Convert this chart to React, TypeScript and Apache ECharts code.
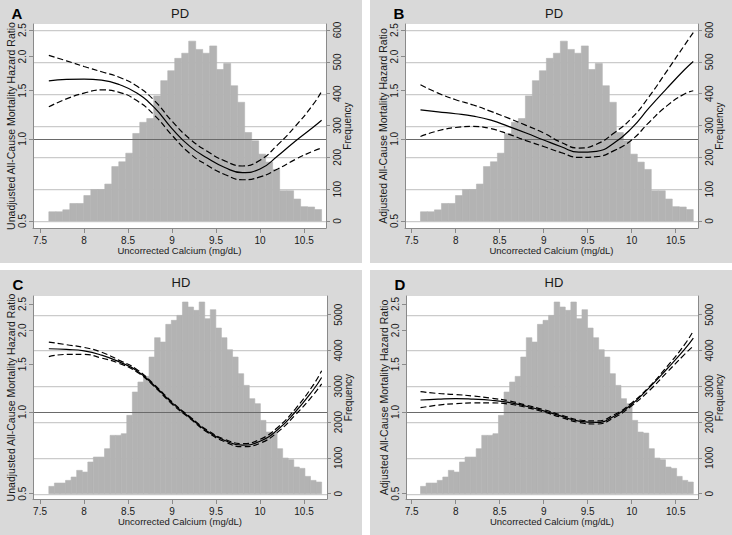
import React, { useEffect, useRef } from "react";
import * as echarts from "echarts";

// ---------------- data ----------------
const calciumX = [7.6, 7.8, 8.0, 8.2, 8.4, 8.6, 8.8, 9.0, 9.2, 9.4, 9.6, 9.8, 10.0, 10.2, 10.4, 10.6, 10.7];

// Panel A: PD, unadjusted hazard ratio
const pdUnadjEst = [1.63, 1.65, 1.655, 1.64, 1.58, 1.47, 1.3, 1.09, 0.94, 0.85, 0.785, 0.752, 0.775, 0.865, 0.98, 1.1, 1.17];
const pdUnadjHi = [2.02, 1.93, 1.84, 1.76, 1.68, 1.56, 1.38, 1.16, 1.0, 0.9, 0.83, 0.795, 0.835, 0.95, 1.11, 1.33, 1.49];
const pdUnadjLo = [1.31, 1.4, 1.47, 1.51, 1.48, 1.38, 1.22, 1.03, 0.885, 0.8, 0.74, 0.708, 0.725, 0.775, 0.84, 0.9, 0.925];

// Panel B: PD, adjusted hazard ratio
const pdAdjEst = [1.277, 1.255, 1.235, 1.21, 1.17, 1.11, 1.05, 0.99, 0.935, 0.893, 0.9, 0.965, 1.094, 1.3, 1.53, 1.79, 1.92];
const pdAdjHi = [1.577, 1.47, 1.39, 1.33, 1.26, 1.19, 1.12, 1.05, 0.97, 0.925, 0.955, 1.05, 1.19, 1.43, 1.77, 2.2, 2.45];
const pdAdjLo = [1.02, 1.07, 1.1, 1.11, 1.09, 1.04, 0.985, 0.937, 0.89, 0.855, 0.86, 0.905, 0.99, 1.15, 1.32, 1.46, 1.5];

// Panel C: HD, unadjusted hazard ratio
const hdUnadjEst = [1.71, 1.7, 1.68, 1.62, 1.53, 1.42, 1.25, 1.08, 0.955, 0.85, 0.785, 0.755, 0.78, 0.86, 1.0, 1.2, 1.34];
const hdUnadjHi = [1.81, 1.77, 1.73, 1.66, 1.55, 1.435, 1.26, 1.09, 0.962, 0.857, 0.793, 0.765, 0.793, 0.877, 1.025, 1.25, 1.42];
const hdUnadjLo = [1.6, 1.63, 1.63, 1.58, 1.51, 1.405, 1.24, 1.07, 0.948, 0.843, 0.777, 0.745, 0.767, 0.843, 0.975, 1.15, 1.27];

// Panel D: HD, adjusted hazard ratio
const hdAdjEst = [1.107, 1.115, 1.12, 1.115, 1.105, 1.085, 1.05, 1.01, 0.965, 0.925, 0.915, 0.965, 1.067, 1.23, 1.44, 1.7, 1.87];
const hdAdjHi = [1.188, 1.17, 1.16, 1.145, 1.125, 1.1, 1.06, 1.02, 0.975, 0.935, 0.927, 0.977, 1.08, 1.24, 1.47, 1.77, 1.99];
const hdAdjLo = [1.037, 1.06, 1.073, 1.08, 1.08, 1.07, 1.04, 1.0, 0.955, 0.915, 0.903, 0.953, 1.055, 1.2, 1.4, 1.63, 1.75];

// Histograms of uncorrected calcium (bins spanning 7.6 - 10.7)
const histStart = 7.6;
const histEnd = 10.7;
const pdCounts = [29, 29, 35, 55, 55, 80, 99, 99, 116, 171, 186, 213, 275, 310, 322, 393, 441, 472, 511, 527, 565, 539, 527, 550, 476, 495, 425, 373, 278, 252, 210, 185, 162, 95, 95, 69, 45, 44, 36];
const hdCounts = [205, 298, 298, 372, 466, 652, 605, 885, 1024, 1024, 1257, 1630, 1630, 1676, 2188, 2840, 3119, 3277, 3817, 4358, 4236, 4730, 4842, 4981, 5354, 5214, 5121, 5354, 4888, 5140, 4627, 4358, 4022, 3817, 3352, 3026, 2654, 2514, 2048, 1722, 1694, 1257, 996, 950, 745, 708, 484, 372, 326];

// Tick labels
const xTicks = [7.5, 8, 8.5, 9, 9.5, 10, 10.5];
const hrTicks = [0.5, 1.0, 1.5, 2.0, 2.5];
const pdFreqTicks = [0, 100, 200, 300, 400, 500, 600];
const hdFreqTicks = [0, 1000, 2000, 3000, 4000, 5000];

// ---------------- layout ----------------
const FONT = "'Liberation Sans', Arial, Helvetica, sans-serif";
const PANEL_BG = "#d9d9d9";
const BAR_COLOR = "#b3b3b3";
const GRID_COLOR = "#cbcbcb";
const AXIS_COLOR = "#8a8a8a";
const TEXT_COLOR = "#1a1a1a";

const panels = [
  {
    letter: "A", title: "PD", yName: "Unadjusted All-Cause Mortality Hazard Ratio",
    bg: [0, 0, 362, 263], grid: { left: 33, top: 24, width: 293, height: 204 },
    letterPos: [17, 13], titlePos: [180, 13],
    logRange: [-1.0852, 1.3966], freqRange: [-22, 618.9], xRange: [7.42, 10.75],
    counts: pdCounts, freqTicks: pdFreqTicks, est: pdUnadjEst, hi: pdUnadjHi, lo: pdUnadjLo,
  },
  {
    letter: "B", title: "PD", yName: "Adjusted All-Cause Mortality Hazard Ratio",
    bg: [370, 0, 362, 263], grid: { left: 405, top: 24, width: 293, height: 204 },
    letterPos: [399, 13], titlePos: [554, 13],
    logRange: [-1.0852, 1.3966], freqRange: [-22, 618.9], xRange: [7.424, 10.754],
    counts: pdCounts, freqTicks: pdFreqTicks, est: pdAdjEst, hi: pdAdjHi, lo: pdAdjLo,
  },
  {
    letter: "C", title: "HD", yName: "Unadjusted All-Cause Mortality Hazard Ratio",
    bg: [0, 270, 362, 265], grid: { left: 33, top: 296, width: 294, height: 203 },
    letterPos: [18, 284], titlePos: [181, 282],
    logRange: [-1.0649, 1.4198], freqRange: [-148, 5522], xRange: [7.42, 10.761],
    counts: hdCounts, freqTicks: hdFreqTicks, est: hdUnadjEst, hi: hdUnadjHi, lo: hdUnadjLo,
  },
  {
    letter: "D", title: "HD", yName: "Adjusted All-Cause Mortality Hazard Ratio",
    bg: [370, 270, 362, 265], grid: { left: 406, top: 296, width: 292, height: 203 },
    letterPos: [400, 284], titlePos: [554, 282],
    logRange: [-1.0649, 1.4198], freqRange: [-148, 5522], xRange: [7.435, 10.753],
    counts: hdCounts, freqTicks: hdFreqTicks, est: hdAdjEst, hi: hdAdjHi, lo: hdAdjLo,
  },
];

const log2 = (v: number) => Math.log(v) / Math.LN2;
const toPoints = (ys: number[]) => calciumX.map((x, i) => [x, log2(ys[i])]);
const binData = (counts: number[]) => {
  const w = (histEnd - histStart) / counts.length;
  return counts.map((c, i) => [histStart + i * w, histStart + (i + 1) * w, c]);
};

function buildOption() {
  const grid: any[] = [];
  const xAxis: any[] = [];
  const yAxis: any[] = [];
  const series: any[] = [];
  const graphic: any[] = [];

  panels.forEach((p, i) => {
    graphic.push({
      type: "rect", z: -10, silent: true,
      shape: { x: p.bg[0], y: p.bg[1], width: p.bg[2], height: p.bg[3] },
      style: { fill: PANEL_BG },
    });
    graphic.push({
      type: "text", x: p.letterPos[0], y: p.letterPos[1], z: 10,
      style: { text: p.letter, font: `bold 15px ${FONT}`, fill: "#000", align: "center", verticalAlign: "middle" },
    });
    graphic.push({
      type: "text", x: p.titlePos[0], y: p.titlePos[1], z: 10,
      style: { text: p.title, font: `13px ${FONT}`, fill: TEXT_COLOR, align: "center", verticalAlign: "middle" },
    });

    grid.push({ ...p.grid, show: false, containLabel: false });

    xAxis.push({
      gridIndex: i, type: "value", min: p.xRange[0], max: p.xRange[1], z: 8,
      name: "Uncorrected Calcium (mg/dL)", nameLocation: "middle", nameGap: 17,
      nameTextStyle: { fontFamily: FONT, fontSize: 9.5, color: TEXT_COLOR },
      axisLine: { show: true, onZero: false, lineStyle: { color: AXIS_COLOR, width: 1 } },
      axisTick: { show: true, customValues: xTicks, length: 5, lineStyle: { color: AXIS_COLOR } },
      axisLabel: { customValues: xTicks, fontFamily: FONT, fontSize: 10, color: TEXT_COLOR, margin: 7, hideOverlap: false },
      splitLine: { show: false },
    });

    yAxis.push({
      gridIndex: i, type: "value", position: "left", min: p.logRange[0], max: p.logRange[1], z: 8,
      name: p.yName, nameLocation: "middle", nameGap: 15, nameRotate: 90,
      nameTextStyle: { fontFamily: FONT, fontSize: 10.5, color: TEXT_COLOR },
      axisLine: { show: true, onZero: false, lineStyle: { color: AXIS_COLOR, width: 1 } },
      axisTick: { show: true, customValues: hrTicks.map(log2), length: 4, lineStyle: { color: AXIS_COLOR } },
      axisLabel: {
        customValues: hrTicks.map(log2), rotate: 90, margin: 6,
        fontFamily: FONT, fontSize: 10, color: TEXT_COLOR,
        formatter: (v: number) => Math.pow(2, v).toFixed(1),
      },
      splitLine: { show: false },
    });

    yAxis.push({
      gridIndex: i, type: "value", position: "right", min: p.freqRange[0], max: p.freqRange[1], z: 8,
      name: "Frequency", nameLocation: "middle", nameGap: 16, nameRotate: 90,
      nameTextStyle: { fontFamily: FONT, fontSize: 10, color: TEXT_COLOR },
      axisLine: { show: true, onZero: false, lineStyle: { color: AXIS_COLOR, width: 1 } },
      axisTick: { show: true, customValues: p.freqTicks, length: 4, lineStyle: { color: AXIS_COLOR } },
      axisLabel: {
        customValues: p.freqTicks, rotate: 90, margin: 6, fontFamily: FONT, fontSize: 10, color: TEXT_COLOR,
        formatter: (v: number) => String(Math.round(v)),
      },
      splitLine: { show: false },
    });

    const logAxis = i * 2;
    const freqAxis = i * 2 + 1;

    // white plot region
    series.push({
      type: "custom", xAxisIndex: i, yAxisIndex: freqAxis, z: 1, silent: true,
      data: [[p.xRange[0], 0]],
      encode: { x: 0, y: 1 },
      renderItem: (params: any) => {
        const cs = params.coordSys;
        return {
          type: "rect",
          shape: { x: cs.x, y: cs.y, width: cs.width, height: cs.height },
          style: { fill: "#ffffff" },
        };
      },
    });

    // gridlines at frequency ticks
    series.push({
      type: "custom", xAxisIndex: i, yAxisIndex: freqAxis, z: 2, silent: true,
      data: p.freqTicks.map((t) => [p.xRange[0], t]),
      encode: { x: 0, y: 1 },
      renderItem: (params: any, api: any) => {
        const cs = params.coordSys;
        const y = Math.round(api.coord([api.value(0), api.value(1)])[1]);
        return {
          type: "rect",
          shape: { x: cs.x, y: y, width: cs.width, height: 1.2 },
          style: { fill: GRID_COLOR },
        };
      },
    });

    // histogram
    series.push({
      type: "custom", xAxisIndex: i, yAxisIndex: freqAxis, z: 3, silent: true,
      data: binData(p.counts),
      encode: { x: [0, 1], y: 2 },
      renderItem: (params: any, api: any) => {
        const a = api.coord([api.value(0), 0]);
        const b = api.coord([api.value(1), api.value(2)]);
        return {
          type: "rect",
          shape: { x: a[0], y: b[1], width: b[0] - a[0], height: a[1] - b[1] },
          style: { fill: BAR_COLOR, stroke: BAR_COLOR, lineWidth: 0.6 },
        };
      },
    });

    const lineBase = {
      type: "line", xAxisIndex: i, yAxisIndex: logAxis, smooth: 0.5, symbol: "none",
      silent: true, z: 5,
    };
    series.push({
      ...lineBase, name: `${p.letter}-est`, data: toPoints(p.est),
      lineStyle: { color: "#000", width: 1.2, type: "solid" },
      markLine: {
        silent: true, symbol: "none", label: { show: false }, z: 4,
        lineStyle: { color: "#6a6a6a", width: 1.2, type: "solid" },
        data: [{ yAxis: 0 }],
      },
    });
    series.push({
      ...lineBase, name: `${p.letter}-hi`, data: toPoints(p.hi),
      lineStyle: { color: "#000", width: 1.2, type: [6, 3] },
    });
    series.push({
      ...lineBase, name: `${p.letter}-lo`, data: toPoints(p.lo),
      lineStyle: { color: "#000", width: 1.2, type: [6, 3] },
    });
  });

  return {
    animation: false,
    backgroundColor: "#ffffff",
    textStyle: { fontFamily: FONT },
    grid, xAxis, yAxis, series, graphic,
  };
}

export default function App() {
  const ref = useRef<HTMLDivElement>(null);
  useEffect(() => {
    if (!ref.current) return;
    const chart = echarts.init(ref.current, undefined, { renderer: "svg" });
    chart.setOption(buildOption() as any);
    return () => chart.dispose();
  }, []);
  return (
    <div
      ref={ref}
      style={{ position: "absolute", left: 0, top: 0, width: 732, height: 535 }}
    />
  );
}
